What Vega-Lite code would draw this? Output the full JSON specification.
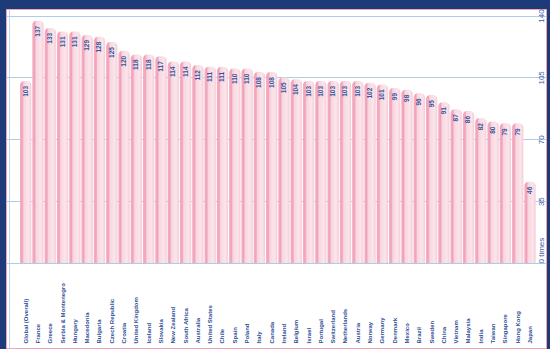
{
  "$schema": "https://vega.github.io/schema/vega-lite/v6.json",
  "width": 540,
  "height": 339,
  "autosize": {"type": "none"},
  "padding": {"left": 6, "top": 9, "right": 4, "bottom": 1},
  "background": "#1d3b78",
  "config": {
    "view": {"fill": "#ffffff", "stroke": "#f0a3b8", "strokeWidth": 1},
    "font": "Liberation Sans"
  },
  "data": {
    "values": [
      {"country": "Global (Overall)", "times": 103},
      {"country": "France", "times": 137},
      {"country": "Greece", "times": 133},
      {"country": "Serbia & Montenegro", "times": 131},
      {"country": "Hungary", "times": 131},
      {"country": "Macedonia", "times": 129},
      {"country": "Bulgaria", "times": 128},
      {"country": "Czech Republic", "times": 125},
      {"country": "Croatia", "times": 120},
      {"country": "United Kingdom", "times": 118},
      {"country": "Iceland", "times": 118},
      {"country": "Slovakia", "times": 117},
      {"country": "New Zealand", "times": 114},
      {"country": "South Africa", "times": 114},
      {"country": "Australia", "times": 112},
      {"country": "United States", "times": 111},
      {"country": "Chile", "times": 111},
      {"country": "Spain", "times": 110},
      {"country": "Poland", "times": 110},
      {"country": "Italy", "times": 108},
      {"country": "Canada", "times": 108},
      {"country": "Ireland", "times": 105},
      {"country": "Belgium", "times": 104},
      {"country": "Israel", "times": 103},
      {"country": "Portugal", "times": 103},
      {"country": "Switzerland", "times": 103},
      {"country": "Netherlands", "times": 103},
      {"country": "Austria", "times": 103},
      {"country": "Norway", "times": 102},
      {"country": "Germany", "times": 101},
      {"country": "Denmark", "times": 99},
      {"country": "Mexico", "times": 98},
      {"country": "Brazil", "times": 96},
      {"country": "Sweden", "times": 95},
      {"country": "China", "times": 91},
      {"country": "Vietnam", "times": 87},
      {"country": "Malaysia", "times": 86},
      {"country": "India", "times": 82},
      {"country": "Taiwan", "times": 80},
      {"country": "Singapore", "times": 79},
      {"country": "Hong Kong", "times": 79},
      {"country": "Japan", "times": 46}
    ]
  },
  "encoding": {
    "x": {
      "field": "country",
      "type": "nominal",
      "sort": null,
      "scale": {"paddingInner": 0.08, "paddingOuter": 0.99, "align": 0.575},
      "axis": {
        "orient": "bottom",
        "title": null,
        "domain": false,
        "ticks": false,
        "labelAngle": 270,
        "labelAlign": "left",
        "labelBaseline": "middle",
        "labelPadding": -5,
        "labelFontSize": 6,
        "labelFontWeight": "bold",
        "labelColor": "#2f4f95",
        "labelOverlap": false,
        "labelBound": false
      }
    }
  },
  "layer": [
    {
      "mark": {
        "type": "bar",
        "cornerRadiusTopLeft": 4,
        "cornerRadiusTopRight": 4,
        "color": {
          "gradient": "linear",
          "x1": 0, "y1": 0, "x2": 1, "y2": 0,
          "stops": [
            {"offset": 0, "color": "#f3b2c4"},
            {"offset": 0.2, "color": "#f1a1b8"},
            {"offset": 0.34, "color": "#f8d6e0"},
            {"offset": 0.75, "color": "#fbe5eb"},
            {"offset": 1, "color": "#f6cbd7"}
          ]
        }
      },
      "encoding": {
        "y": {
          "field": "times",
          "type": "quantitative",
          "scale": {"domain": [-48.08, 143.68], "nice": false, "zero": false},
          "axis": {
            "orient": "left",
            "offset": -3,
            "values": [0, 35, 70, 105, 140],
            "grid": true,
            "gridColor": "#abcdea",
            "gridWidth": 1,
            "labels": false,
            "ticks": false,
            "domain": true,
            "domainColor": "#bcd8ef",
            "title": null
          }
        },
        "y2": {"datum": 0}
      }
    },
    {
      "mark": {
        "type": "text",
        "angle": 270,
        "align": "right",
        "baseline": "middle",
        "dx": -5,
        "fontSize": 6.5,
        "fontWeight": "bold",
        "color": "#35569a"
      },
      "encoding": {
        "text": {"field": "times", "type": "quantitative"},
        "y": {
          "field": "times",
          "type": "quantitative",
          "scale": {"domain": [-48.08, 143.68], "nice": false, "zero": false},
          "axis": {
            "orient": "right",
            "offset": -10,
            "values": [0, 35, 70, 105, 140],
            "grid": false,
            "domain": false,
            "ticks": false,
            "labelPadding": 5,
            "labelAngle": 270,
            "labelAlign": {"condition": {"test": "datum.value == 0", "value": "left"}, "value": "center"},
            "labelBaseline": "middle",
            "labelExpr": "datum.value == 0 ? '0 times' : datum.label",
            "labelFontSize": 8,
            "labelColor": "#3f60a3",
            "title": null
          }
        }
      }
    }
  ],
  "resolve": {"axis": {"y": "independent"}}
}
